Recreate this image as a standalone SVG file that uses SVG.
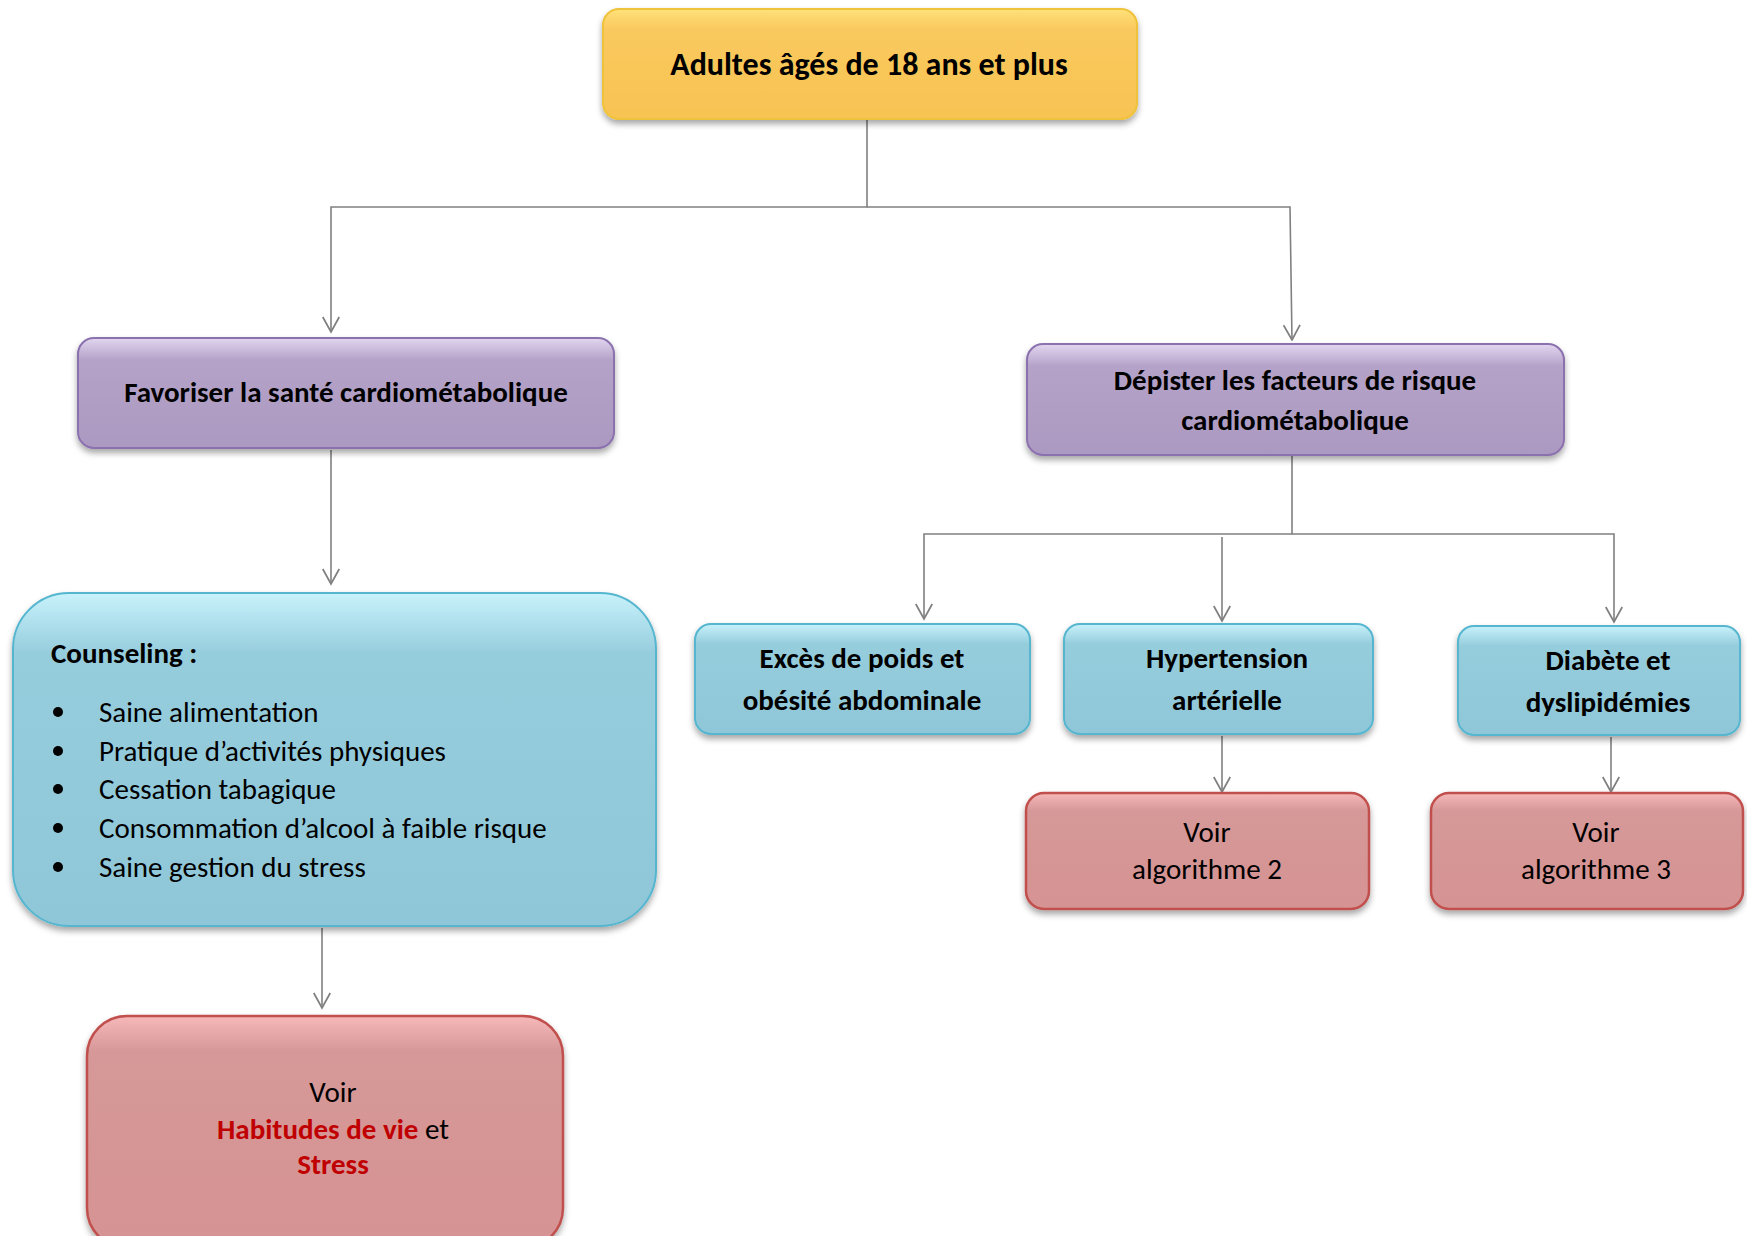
<svg xmlns="http://www.w3.org/2000/svg" width="1747" height="1236" viewBox="0 0 1747 1236">
<defs>
<linearGradient id="gGold" x1="0" y1="0" x2="0" y2="1"><stop offset="0" stop-color="#FFE27A"/><stop offset="0.18" stop-color="#FAC95E"/><stop offset="1" stop-color="#F7C352"/></linearGradient>
<linearGradient id="gPurple" x1="0" y1="0" x2="0" y2="1"><stop offset="0" stop-color="#E2D6F0"/><stop offset="0.2" stop-color="#B4A2C8"/><stop offset="1" stop-color="#AC99C1"/></linearGradient>
<linearGradient id="gBlue" x1="0" y1="0" x2="0" y2="1"><stop offset="0" stop-color="#C8F2FB"/><stop offset="0.18" stop-color="#96CDDD"/><stop offset="1" stop-color="#90C7D8"/></linearGradient>
<linearGradient id="gRed" x1="0" y1="0" x2="0" y2="1"><stop offset="0" stop-color="#F6B8B8"/><stop offset="0.15" stop-color="#D69898"/><stop offset="1" stop-color="#D69393"/></linearGradient>
<filter id="shadow" x="-10%" y="-10%" width="120%" height="130%"><feDropShadow dx="0" dy="4" stdDeviation="3" flood-color="#000" flood-opacity="0.35"/></filter>
<marker id="arr" viewBox="0 0 12 12" refX="11" refY="6" markerWidth="18" markerHeight="18" markerUnits="userSpaceOnUse" orient="auto"><path d="M1,0.5 L11,6 L1,11.5" fill="none" stroke="#808080" stroke-width="1.2"/></marker>
</defs>
<style>
.conn{fill:none;stroke:#808080;stroke-width:1.6}
.gold{fill:url(#gGold);stroke:#EFC23A;stroke-width:2;filter:url(#shadow)}
.purple{fill:url(#gPurple);stroke:#8B72AE;stroke-width:2;filter:url(#shadow)}
.blue{fill:url(#gBlue);stroke:#56B6CF;stroke-width:2;filter:url(#shadow)}
.red{fill:url(#gRed);stroke:#C0504D;stroke-width:2.5;filter:url(#shadow)}
text{font-family:Carlito,Lato,"Liberation Sans",sans-serif;fill:#000;font-size:29px}
.b{font-weight:bold}
.c{text-anchor:middle}
.big{font-size:32px}
.rt{fill:#C00000;font-weight:bold}
</style>
<rect width="1747" height="1236" fill="#fff"/>
<g id="connectors">
<path class="conn" d="M867,119 V207 H331 V332" marker-end="url(#arr)"/>
<path class="conn" d="M867,207 H1290 L1292,340" marker-end="url(#arr)"/>
<path class="conn" d="M331,450 V584" marker-end="url(#arr)"/>
<path class="conn" d="M1292,456 V534 H924 V619" marker-end="url(#arr)"/>
<path class="conn" d="M1292,534 H1614 V622" marker-end="url(#arr)"/>
<path class="conn" d="M1222,537 V621" marker-end="url(#arr)"/>
<path class="conn" d="M322,928 V1008" marker-end="url(#arr)"/>
<path class="conn" d="M1222,736 V792" marker-end="url(#arr)"/>
<path class="conn" d="M1611,737 V792" marker-end="url(#arr)"/>
</g>
<g id="n-adultes">
<rect class="gold" x="603" y="9" width="534" height="110" rx="16"/>
<text class="b c big" x="869" y="75">Adultes âgés de 18 ans et plus</text>
</g>
<g id="n-favoriser">
<rect class="purple" x="78" y="338" width="536" height="110" rx="16"/>
<text class="b c" x="346" y="402">Favoriser la santé cardiométabolique</text>
</g>
<g id="n-depister">
<rect class="purple" x="1027" y="344" width="537" height="111" rx="16"/>
<text class="b c" x="1295" y="390">Dépister les facteurs de risque</text>
<text class="b c" x="1295" y="430">cardiométabolique</text>
</g>
<g id="n-counseling">
<rect class="blue" x="13" y="593" width="643" height="333" rx="56"/>
<text class="b" x="51" y="663">Counseling :</text>
<g>
<circle cx="58" cy="712" r="5"/><text x="99" y="722">Saine alimentation</text>
<circle cx="58" cy="751" r="5"/><text x="99" y="761">Pratique d’activités physiques</text>
<circle cx="58" cy="789" r="5"/><text x="99" y="799">Cessation tabagique</text>
<circle cx="58" cy="828" r="5"/><text x="99" y="838">Consommation d’alcool à faible risque</text>
<circle cx="58" cy="867" r="5"/><text x="99" y="877">Saine gestion du stress</text>
</g>
</g>
<g id="n-habitudes">
<rect class="red" x="87" y="1016" width="476" height="232" rx="40"/>
<text class="c" x="333" y="1102">Voir</text>
<text class="c" x="333" y="1139"><tspan class="rt">Habitudes de vie</tspan> et</text>
<text class="c rt" x="333" y="1174">Stress</text>
</g>
<g id="n-exces">
<rect class="blue" x="695" y="624" width="335" height="110" rx="16"/>
<text class="b c" x="862" y="668">Excès de poids et</text>
<text class="b c" x="862" y="710">obésité abdominale</text>
</g>
<g id="n-hypertension">
<rect class="blue" x="1064" y="624" width="309" height="110" rx="16"/>
<text class="b c" x="1227" y="668">Hypertension</text>
<text class="b c" x="1227" y="710">artérielle</text>
</g>
<g id="n-diabete">
<rect class="blue" x="1458" y="626" width="282" height="109" rx="16"/>
<text class="b c" x="1608" y="670">Diabète et</text>
<text class="b c" x="1608" y="712">dyslipidémies</text>
</g>
<g id="n-algo2">
<rect class="red" x="1026" y="793" width="343" height="116" rx="18"/>
<text class="c" x="1207" y="842">Voir</text>
<text class="c" x="1207" y="879">algorithme 2</text>
</g>
<g id="n-algo3">
<rect class="red" x="1431" y="793" width="312" height="116" rx="18"/>
<text class="c" x="1596" y="842">Voir</text>
<text class="c" x="1596" y="879">algorithme 3</text>
</g>
</svg>
